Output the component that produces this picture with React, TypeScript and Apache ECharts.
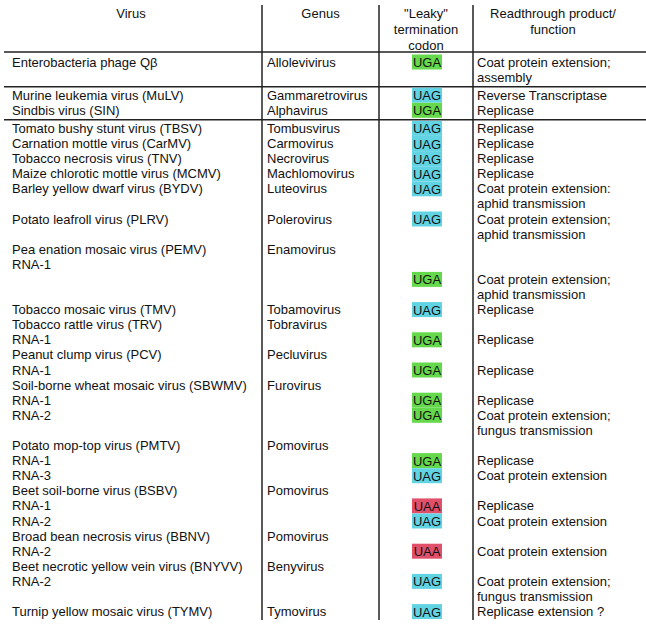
import React, { useEffect, useRef } from "react";
import * as echarts from "echarts";

const headerVirus = ["Virus"];
const headerGenus = ["Genus"];
const headerCodon = ['"Leaky"', "termination", "codon"];
const headerFunction = ["Readthrough product/", "function"];

const virusLines = [
  "Enterobacteria phage Q\u03b2", "",
  "Murine leukemia virus (MuLV)", "Sindbis virus (SIN)",
  "Tomato bushy stunt virus (TBSV)", "Carnation mottle virus (CarMV)", "Tobacco necrosis virus (TNV)",
  "Maize chlorotic mottle virus (MCMV)", "Barley yellow dwarf virus (BYDV)", "",
  "Potato leafroll virus (PLRV)", "",
  "Pea enation mosaic virus (PEMV)", "RNA-1", "", "",
  "Tobacco mosaic virus (TMV)", "Tobacco rattle virus (TRV)", "RNA-1",
  "Peanut clump virus (PCV)", "RNA-1",
  "Soil-borne wheat mosaic virus (SBWMV)", "RNA-1", "RNA-2", "",
  "Potato mop-top virus (PMTV)", "RNA-1", "RNA-3",
  "Beet soil-borne virus (BSBV)", "RNA-1", "RNA-2",
  "Broad bean necrosis virus (BBNV)", "RNA-2",
  "Beet necrotic yellow vein virus (BNYVV)", "RNA-2", "",
  "Turnip yellow mosaic virus (TYMV)",
];

const genusLines = [
  "Allolevivirus", "",
  "Gammaretrovirus", "Alphavirus",
  "Tombusvirus", "Carmovirus", "Necrovirus", "Machlomovirus", "Luteovirus", "",
  "Polerovirus", "",
  "Enamovirus", "", "", "",
  "Tobamovirus", "Tobravirus", "",
  "Pecluvirus", "",
  "Furovirus", "", "", "",
  "Pomovirus", "", "",
  "Pomovirus", "", "",
  "Pomovirus", "",
  "Benyvirus", "", "",
  "Tymovirus",
];

const codonLines = [
  "UGA", "",
  "UAG", "UGA",
  "UAG", "UAG", "UAG", "UAG", "UAG", "",
  "UAG", "",
  "", "", "UGA", "",
  "UAG", "", "UGA",
  "", "UGA",
  "", "UGA", "UGA", "",
  "", "UGA", "UAG",
  "", "UAA", "UAG",
  "", "UAA",
  "", "UAG", "",
  "UAG",
];

const functionLines = [
  "Coat protein extension;", "assembly",
  "Reverse Transcriptase", "Replicase",
  "Replicase", "Replicase", "Replicase", "Replicase", "Coat protein extension:", "aphid transmission",
  "Coat protein extension;", "aphid transmission",
  "", "", "Coat protein extension;", "aphid transmission",
  "Replicase", "", "Replicase",
  "", "Replicase",
  "", "Replicase", "Coat protein extension;", "fungus transmission",
  "", "Replicase", "Coat protein extension",
  "", "Replicase", "Coat protein extension",
  "", "Coat protein extension",
  "", "Coat protein extension;", "fungus transmission",
  "Replicase extension ?",
];

const codonColors: Record<string, string> = {
  UGA: "#66d84c",
  UAG: "#62d3e3",
  UAA: "#e0506a",
};

const FONT = '13px "Liberation Sans", Arial, sans-serif';
const TEXT_COLOR = "#111111";
const LINE_COLOR = "#222222";

export default function App() {
  const ref = useRef<HTMLDivElement>(null);

  useEffect(() => {
    document.body.style.margin = "0";
    if (!ref.current) return;
    const chart = echarts.init(ref.current, undefined, { renderer: "svg" });

    const W = 646;
    const col1 = 262;
    const col2 = 379;
    const col3 = 473;
    const y0 = 62;
    const LH = 15.1;
    const gap = 3;
    const rowY = (i: number) => y0 + i * LH + (i >= 2 ? gap : 0) + (i >= 4 ? gap : 0);

    const txt = (s: string, x: number, y: number, align: string) => ({
      type: "text",
      silent: true,
      style: {
        text: s,
        x,
        y,
        fill: TEXT_COLOR,
        font: FONT,
        textAlign: align,
        textVerticalAlign: "middle",
        align,
        verticalAlign: "middle",
      },
    });

    const elements: any[] = [];

    headerVirus.forEach((s, i) => elements.push(txt(s, col1 / 2, 13 + i * 16, "center")));
    headerGenus.forEach((s, i) => elements.push(txt(s, (col1 + col2) / 2, 13 + i * 16, "center")));
    headerCodon.forEach((s, i) => elements.push(txt(s, (col2 + col3) / 2, 13 + i * 16, "center")));
    headerFunction.forEach((s, i) => elements.push(txt(s, 553, 13 + i * 16, "center")));

    const hline = (y: number) => ({
      type: "line",
      silent: true,
      shape: { x1: 4, y1: y, x2: W, y2: y },
      style: { stroke: LINE_COLOR, lineWidth: 1.5 },
    });
    const vline = (x: number) => ({
      type: "line",
      silent: true,
      shape: { x1: x, y1: 5, x2: x, y2: 620 },
      style: { stroke: LINE_COLOR, lineWidth: 1.5 },
    });
    elements.push(hline(52));
    elements.push(hline((rowY(1) + rowY(2)) / 2 + 0.5));
    elements.push(hline((rowY(3) + rowY(4)) / 2 + 0.5));
    elements.push(vline(col1));
    elements.push(vline(col2));
    elements.push(vline(col3));

    virusLines.forEach((s, i) => {
      if (s) elements.push(txt(s, 12, rowY(i), "left"));
    });
    genusLines.forEach((s, i) => {
      if (s) elements.push(txt(s, col1 + 5, rowY(i), "left"));
    });
    const cx = 427;
    codonLines.forEach((s, i) => {
      if (!s) return;
      elements.push({
        type: "rect",
        silent: true,
        shape: { x: cx - 15, y: rowY(i) - 7.5, width: 30, height: 15 },
        style: { fill: codonColors[s] },
      });
      elements.push(txt(s, cx, rowY(i) + 0.5, "center"));
    });
    functionLines.forEach((s, i) => {
      if (s) elements.push(txt(s, col3 + 4, rowY(i), "left"));
    });

    chart.setOption({
      animation: false,
      backgroundColor: "#ffffff",
      graphic: { elements },
    });

    return () => chart.dispose();
  }, []);

  return <div ref={ref} style={{ width: 646, height: 625 }} />;
}
